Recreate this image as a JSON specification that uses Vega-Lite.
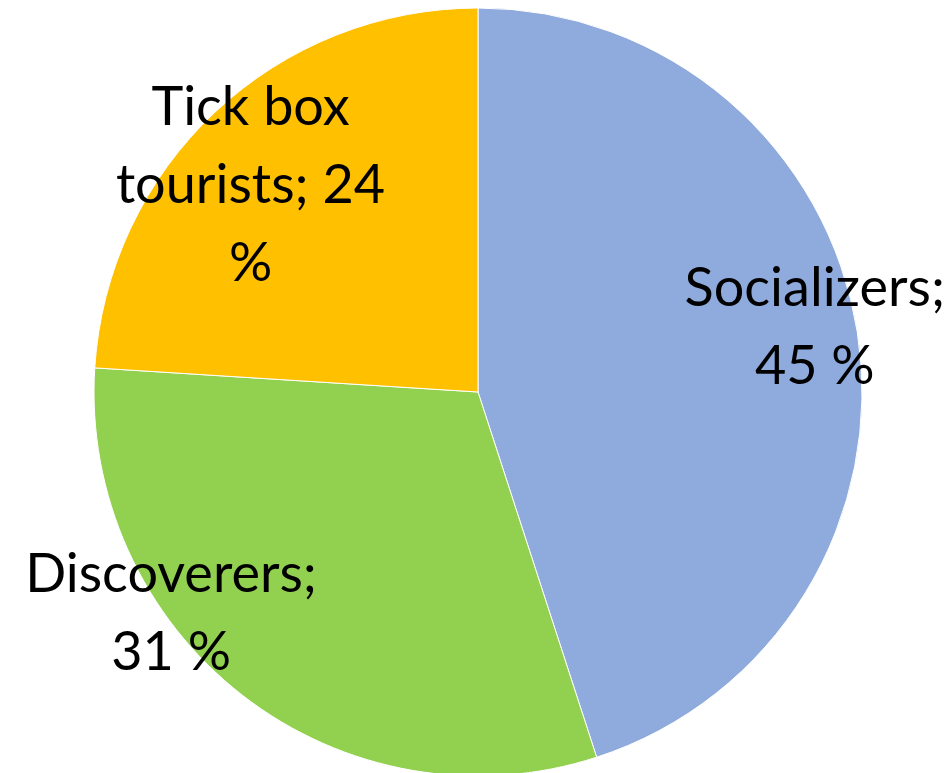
{
  "$schema": "https://vega.github.io/schema/vega-lite/v6.json",
  "width": 956,
  "height": 784,
  "autosize": "none",
  "padding": 0,
  "background": "white",
  "view": {"stroke": null},
  "data": {
    "values": [
      {"category": "Socializers", "value": 45, "order": 1},
      {"category": "Discoverers", "value": 31, "order": 2},
      {"category": "Tick box tourists", "value": 24, "order": 3}
    ]
  },
  "encoding": {
    "theta": {"field": "value", "type": "quantitative", "stack": true},
    "order": {"field": "order", "type": "quantitative"}
  },
  "layer": [
    {
      "mark": {"type": "arc", "outerRadius": 384, "stroke": "white", "strokeWidth": 1},
      "encoding": {
        "color": {
          "field": "category",
          "type": "nominal",
          "scale": {
            "domain": ["Socializers", "Discoverers", "Tick box tourists"],
            "range": ["#8FAADC", "#92D050", "#FFC000"]
          },
          "legend": null
        }
      }
    },
    {
      "mark": {"type": "text", "radius": 343, "dx": -2, "dy": -48, "font": "Lato", "fontSize": 54, "lineHeight": 78, "color": "black", "align": "center", "baseline": "middle"},
      "encoding": {
        "text": {"condition": {"test": "datum.category === 'Socializers'", "value": ["Socializers;", "45 %"]}, "value": ""}
      }
    },
    {
      "mark": {"type": "text", "radius": 306, "dx": -18, "dy": -60, "font": "Lato", "fontSize": 54, "lineHeight": 78, "color": "black", "align": "center", "baseline": "middle"},
      "encoding": {
        "text": {"condition": {"test": "datum.category === 'Tick box tourists'", "value": ["Tick box", "tourists; 24", "%"]}, "value": ""}
      }
    },
    {
      "mark": {"type": "text", "radius": 380, "dx": -74, "dy": -116, "font": "Lato", "fontSize": 54, "lineHeight": 78, "color": "black", "align": "center", "baseline": "middle"},
      "encoding": {
        "text": {"condition": {"test": "datum.category === 'Discoverers'", "value": ["Discoverers;", "31 %"]}, "value": ""}
      }
    }
  ]
}
